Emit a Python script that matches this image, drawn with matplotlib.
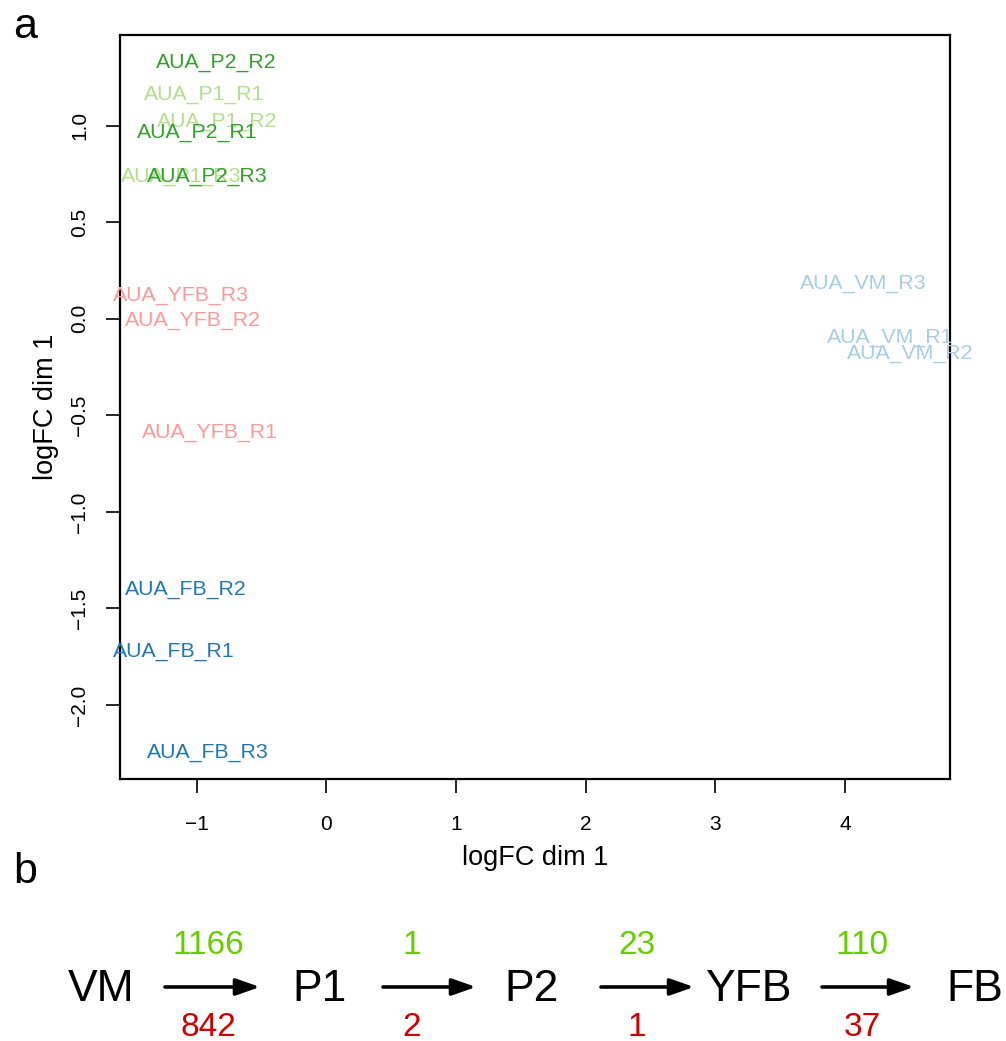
import matplotlib
matplotlib.use("Agg")
import matplotlib.pyplot as plt
import matplotlib.transforms as mtransforms

plt.rcParams['font.family'] = ['Liberation Sans', 'DejaVu Sans']

# ---- panel a: MDS plot of samples ----
samples = ["AUA_P2_R2", "AUA_P1_R1", "AUA_P1_R2", "AUA_P2_R1", "AUA_P1_R3", "AUA_P2_R3",
           "AUA_YFB_R3", "AUA_YFB_R2", "AUA_YFB_R1",
           "AUA_FB_R2", "AUA_FB_R1", "AUA_FB_R3",
           "AUA_VM_R3", "AUA_VM_R1", "AUA_VM_R2"]
dim1 = [-0.845, -0.940, -0.838, -0.998, -1.118, -0.915,
        -1.121, -1.025, -0.900,
        -1.083, -1.176, -0.915,
        4.140, 4.348, 4.503]
dim2 = [1.340, 1.176, 1.034, 0.979, 0.752, 0.752,
        0.132, 0.003, -0.575,
        -1.388, -1.708, -2.233,
        0.194, -0.083, -0.168]
group_colors = {"P1": "#B2DF8A", "P2": "#33A02C", "YFB": "#FB9A99",
                "FB": "#1F78B4", "VM": "#A6CEE3"}

xticks = [-1, 0, 1, 2, 3, 4]
yticks = [-2.0, -1.5, -1.0, -0.5, 0.0, 0.5, 1.0]

# ---- panel b: differential expression counts between stages ----
stages = ["VM", "P1", "P2", "YFB", "FB"]
up_counts = [1166, 1, 23, 110]
down_counts = [842, 2, 1, 37]

W, H = 1006, 1041
fig = plt.figure(figsize=(W / 100, H / 100), dpi=100)

ax = fig.add_axes([119.5 / W, 1 - 779 / H, (950 - 119.5) / W, (779 - 35) / H])
ax.set_xlim(-1.595, 4.81)
ax.set_ylim(-2.383, 1.47)

label_fs = 15.3
# shift so that the cap height is centred on the coordinate
cap_shift = mtransforms.offset_copy(ax.transData, fig=fig, x=0, y=-0.358 * label_fs, units='points')
for name, x, y in zip(samples, dim1, dim2):
    grp = name.split("_")[1]
    ax.text(x, y, name, ha='center', va='baseline', fontsize=label_fs,
            color=group_colors[grp], transform=cap_shift)

ax.set_xticks(xticks)
ax.set_xticklabels([f"{t:d}".replace("-", "\u2212") for t in xticks])
ax.set_yticks(yticks)
ax.set_yticklabels([f"{t:.1f}".replace("-", "\u2212") for t in yticks],
                   rotation=90, va='center')
ax.tick_params(axis='both', direction='out', length=10, width=1.2, labelsize=15)
ax.tick_params(axis='x', pad=16)
ax.tick_params(axis='y', pad=12)
for s in ax.spines.values():
    s.set_linewidth(1.6)
ax.set_xlabel("logFC dim 1", fontsize=19.5, labelpad=8)
ax.set_ylabel("logFC dim 1", fontsize=19.5, labelpad=8)

fig.text(13 / W, 1 - 38 / H, "a", fontsize=31, ha='left', va='baseline')
fig.text(13 / W, 1 - 883 / H, "b", fontsize=31, ha='left', va='baseline')

# panel b drawn in pixel-like coordinates
axb = fig.add_axes([0, 0, 1, 1])
axb.set_xlim(0, W)
axb.set_ylim(H, 0)
axb.axis('off')
axb.set_zorder(-1)

stage_x = [101.5, 320, 532, 748, 975]
arrow_x0 = [165, 383, 601, 822]
arrow_x1 = [260, 476, 694, 914]
count_x = [208, 412, 637, 862]
stage_y, arrow_y, up_y, down_y = 985, 987, 942, 1024

stage_fs, count_fs = 32, 24
for name, x in zip(stages, stage_x):
    axb.text(x, stage_y + 0.358 * stage_fs * 1.389, name, ha='center', va='baseline',
             fontsize=stage_fs, color='black')
for x0, x1 in zip(arrow_x0, arrow_x1):
    axb.annotate('', xy=(x1, arrow_y), xytext=(x0, arrow_y),
                 arrowprops=dict(arrowstyle='-|>,head_length=0.8,head_width=0.28',
                                 mutation_scale=18, lw=2.6, color='black',
                                 shrinkA=0, shrinkB=0))
for x, up, down in zip(count_x, up_counts, down_counts):
    axb.text(x, up_y + 0.358 * count_fs * 1.389, str(up), ha='center', va='baseline',
             fontsize=count_fs, color='#66CD00')
    axb.text(x, down_y + 0.358 * count_fs * 1.389, str(down), ha='center', va='baseline',
             fontsize=count_fs, color='#CD0000')

fig.savefig("out.png", dpi=100)
